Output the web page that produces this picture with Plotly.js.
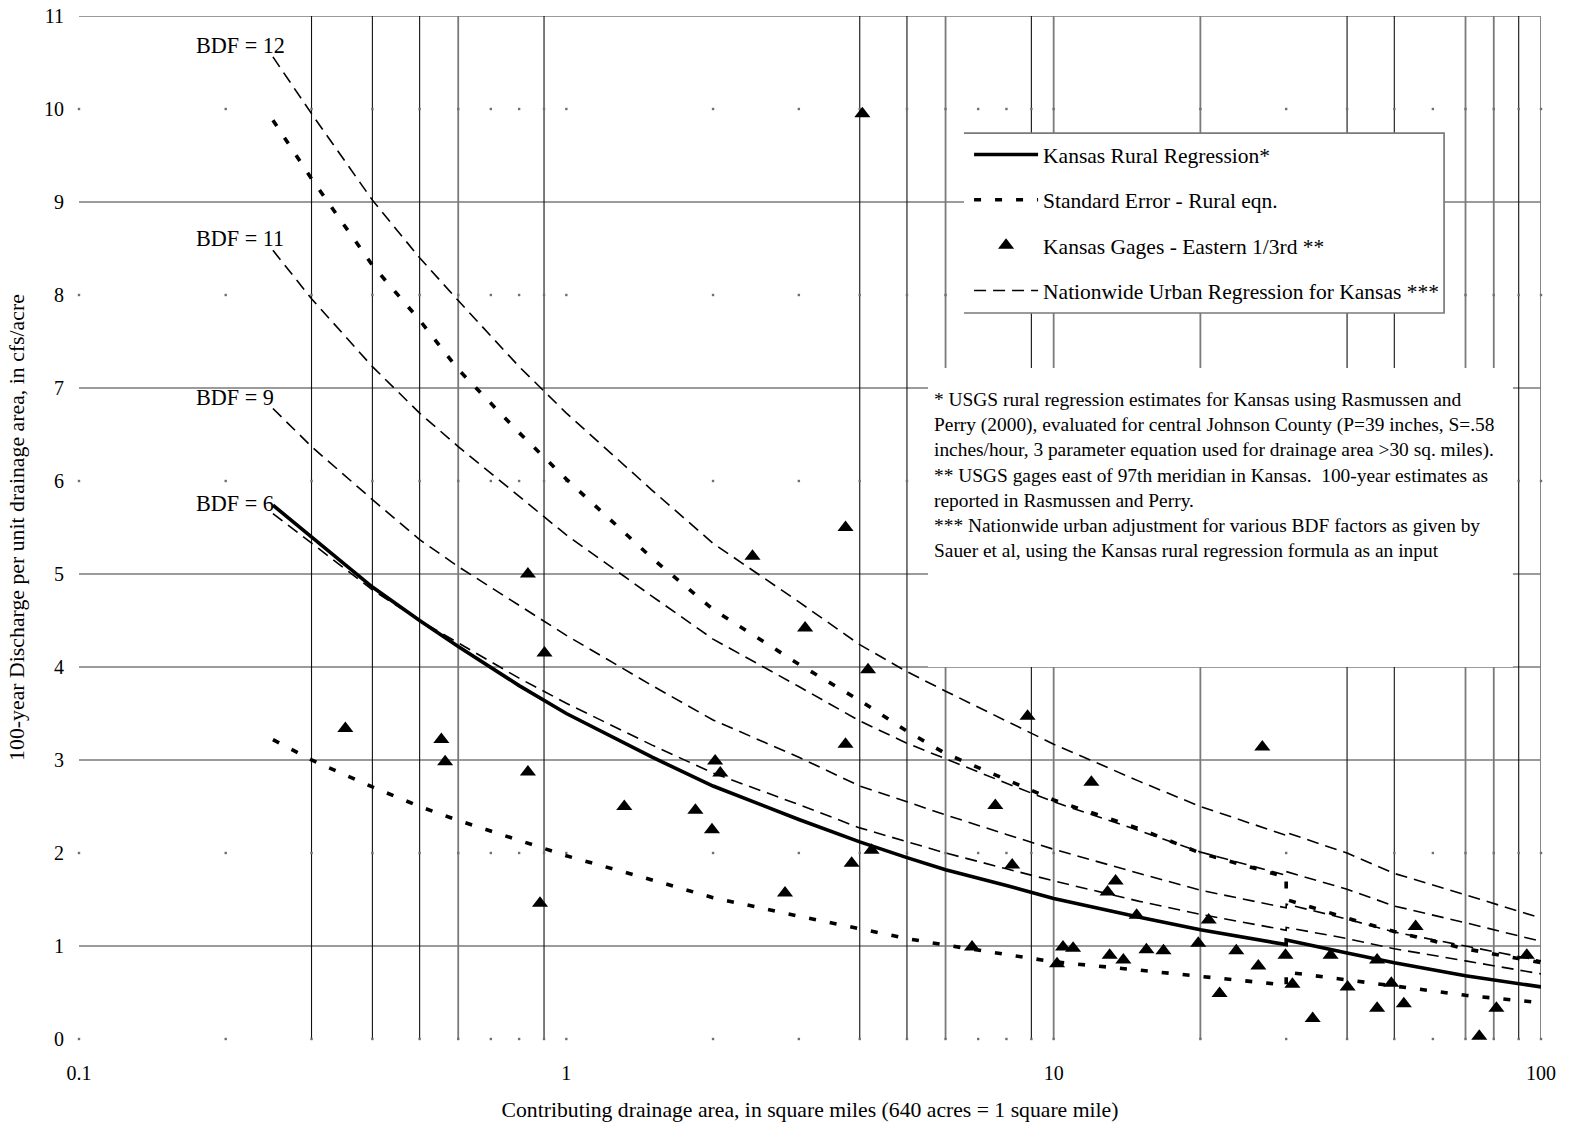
<!DOCTYPE html>
<html>
<head>
<meta charset="utf-8">
<script src="https://cdn.plot.ly/plotly-3.0.1.min.js"></script>
<style>
  html, body { margin: 0; padding: 0; background: #ffffff; }
  #chart { width: 1570px; height: 1127px; }
</style>
</head>
<body>
<div id="chart"></div>
<script>
// ---------------- data ----------------
// drainage area (sq. mi.) at which the regression curves are evaluated; 30 appears twice
// because the rural equation switches to the 3-parameter form there.
const curveArea = [0.25, 0.3, 0.4, 0.5, 0.6, 0.8, 1, 1.5, 2, 3, 4, 5, 6, 8, 10, 15, 20, 30, 30, 40, 50, 70, 100];

const ruralRegression = [5.74, 5.40, 4.86, 4.50, 4.22, 3.80, 3.50, 3.03, 2.72, 2.36, 2.12, 1.95, 1.82, 1.65, 1.51, 1.31, 1.175, 1.015, 1.065, 0.925, 0.82, 0.68, 0.56];
const stdErrUpper     = [9.88, 9.25, 8.32, 7.73, 7.20, 6.52, 6.02, 5.17, 4.62, 4.03, 3.64, 3.31, 3.07, 2.79, 2.57, 2.26, 2.00, 1.74, 1.50, 1.30, 1.155, 0.97, 0.82];
const stdErrLower     = [3.22, 3.00, 2.71, 2.50, 2.35, 2.14, 1.97, 1.71, 1.52, 1.32, 1.18, 1.08, 1.01, 0.91, 0.83, 0.74, 0.67, 0.58, 0.72, 0.64, 0.57, 0.47, 0.39];
const urbanBDF12      = [10.56, 9.95, 9.02, 8.40, 7.94, 7.23, 6.73, 5.90, 5.33, 4.70, 4.24, 3.95, 3.74, 3.42, 3.17, 2.77, 2.50, 2.19, 2.22, 2.00, 1.78, 1.55, 1.30];
const urbanBDF11      = [8.48, 7.96, 7.23, 6.73, 6.37, 5.83, 5.42, 4.76, 4.30, 3.79, 3.42, 3.18, 3.01, 2.75, 2.55, 2.24, 2.01, 1.76, 1.80, 1.61, 1.43, 1.25, 1.05];
const urbanBDF9       = [6.78, 6.37, 5.80, 5.37, 5.08, 4.66, 4.34, 3.80, 3.43, 3.03, 2.72, 2.55, 2.41, 2.20, 2.04, 1.78, 1.60, 1.41, 1.45, 1.29, 1.15, 1.00, 0.84];
const urbanBDF6       = [5.65, 5.33, 4.83, 4.50, 4.26, 3.88, 3.61, 3.16, 2.86, 2.52, 2.27, 2.12, 2.00, 1.83, 1.70, 1.48, 1.34, 1.17, 1.20, 1.08, 0.97, 0.84, 0.70];

// Kansas gages - eastern 1/3rd (drainage area, 100-yr discharge per unit area)
const gageArea = [0.352, 0.554, 0.564, 0.834, 0.834, 0.883, 0.902, 1.315, 1.84, 1.99, 2.02, 2.07, 2.41, 2.81, 3.09, 3.74, 3.74, 3.85, 4.05, 4.16, 4.23, 6.80, 7.59, 8.22, 8.84, 10.16, 10.45, 10.96, 11.95, 12.9, 13.03, 13.4, 13.9, 14.8, 15.5, 16.8, 19.8, 20.8, 21.9, 23.7, 26.3, 26.8, 29.9, 30.9, 34.0, 37.0, 40.1, 46.1, 46.1, 49.3, 52.3, 55.3, 74.7, 81.0, 93.5];
const gageQ    = [3.34, 3.22, 2.98, 5.00, 2.87, 1.46, 4.15, 2.50, 2.46, 2.25, 2.99, 2.86, 5.19, 1.57, 4.42, 5.50, 3.17, 1.89, 9.95, 3.97, 2.03, 0.99, 2.51, 1.87, 3.47, 0.81, 0.99, 0.975, 2.76, 1.58, 0.90, 1.70, 0.85, 1.33, 0.96, 0.95, 1.03, 1.28, 0.49, 0.95, 0.785, 3.14, 0.90, 0.59, 0.22, 0.90, 0.56, 0.85, 0.33, 0.60, 0.38, 1.21, 0.03, 0.33, 0.90];

// axis ticks and gridlines
const xTickVals = [0.1, 1, 10, 100];
const xTickText = ['0.1', '1', '10', '100'];
const yTickVals = [0, 1, 2, 3, 4, 5, 6, 7, 8, 9, 10, 11];
const vGridBlack = [0.3, 0.4, 0.5, 0.9, 4, 5, 9, 40, 50, 90];
const vGridGrey  = [0.6, 6, 10, 20, 70, 80, 100];
const vGridTickExt = [10, 100];
const hGridSolid = [1, 3, 4, 5, 7, 9, 11];
const hGridDotted = [0, 2, 6, 8, 10];
const minorDecades = [0.1, 1, 10];
const minorSteps = [1, 2, 3, 4, 5, 6, 7, 8, 9];

const bdfLabels = ['BDF = 12', 'BDF = 11', 'BDF = 9', 'BDF = 6'];
const bdfLabelY = [10.68, 8.61, 6.90, 5.76];

const notesText = [
  '* USGS rural regression estimates for Kansas using Rasmussen and',
  'Perry (2000), evaluated for central Johnson County (P=39 inches, S=.58',
  'inches/hour, 3 parameter equation used for drainage area &gt;30 sq. miles).',
  '** USGS gages east of 97th meridian in Kansas.\u00a0 100-year estimates as',
  'reported in Rasmussen and Perry.',
  '*** Nationwide urban adjustment for various BDF factors as given by',
  'Sauer et al, using the Kansas rural regression formula as an input'
];

// ---------------- figure ----------------
const FONT = 'Liberation Serif, Times New Roman, serif';

// dotted-row grid dots
const dotX = [], dotY = [];
hGridDotted.forEach(function (yv) {
  minorDecades.forEach(function (d) {
    minorSteps.forEach(function (s) { dotX.push(+(s * d).toPrecision(6)); dotY.push(yv); });
  });
  dotX.push(100); dotY.push(yv);
});

const urbanLine = { color: '#000000', width: 1.6, dash: '12px,7px' };
const seLine = { color: '#000000', width: 3.6, dash: '7px,14px' };

const traces = [
  { x: dotX, y: dotY, type: 'scatter', mode: 'markers', name: 'grid dots',
    marker: { symbol: 'square', size: 2.4, color: '#707070' }, showlegend: false, hoverinfo: 'skip', cliponaxis: false },
  { x: curveArea, y: ruralRegression, type: 'scatter', mode: 'lines', name: 'Kansas Rural Regression*',
    line: { color: '#000000', width: 3.6 }, legendgroup: 'g1', showlegend: true, hoverinfo: 'skip' },
  { x: curveArea, y: stdErrUpper, type: 'scatter', mode: 'lines', name: 'Standard Error - Rural eqn.',
    line: seLine, legendgroup: 'g2', showlegend: true, hoverinfo: 'skip' },
  { x: curveArea, y: stdErrLower, type: 'scatter', mode: 'lines', name: 'Standard Error - Rural eqn.',
    line: seLine, legendgroup: 'g2', showlegend: false, hoverinfo: 'skip' },
  { x: gageArea, y: gageQ, type: 'scatter', mode: 'markers', name: 'Kansas Gages - Eastern 1/3rd **',
    marker: { symbol: 'triangle-up', size: 14, color: '#000000' }, legendgroup: 'g3', showlegend: true,
    cliponaxis: false, hoverinfo: 'skip' },
  { x: curveArea, y: urbanBDF12, type: 'scatter', mode: 'lines', name: 'Nationwide Urban Regression for Kansas ***',
    line: urbanLine, legendgroup: 'g4', showlegend: true, hoverinfo: 'skip' },
  { x: curveArea, y: urbanBDF11, type: 'scatter', mode: 'lines', name: 'BDF 11',
    line: urbanLine, legendgroup: 'g4', showlegend: false, hoverinfo: 'skip' },
  { x: curveArea, y: urbanBDF9, type: 'scatter', mode: 'lines', name: 'BDF 9',
    line: urbanLine, legendgroup: 'g4', showlegend: false, hoverinfo: 'skip' },
  { x: curveArea, y: urbanBDF6, type: 'scatter', mode: 'lines', name: 'BDF 6',
    line: urbanLine, legendgroup: 'g4', showlegend: false, hoverinfo: 'skip' }
];

const shapes = [];
hGridSolid.forEach(function (v) {
  shapes.push({ type: 'line', xref: 'paper', yref: 'y', x0: 0, x1: 1, y0: v, y1: v,
    line: { color: '#7a7a7a', width: 1.7 }, layer: 'below' });
});
vGridBlack.forEach(function (v) {
  shapes.push({ type: 'line', xref: 'x', yref: 'y', x0: v, x1: v, y0: 0, y1: 11,
    line: { color: '#111111', width: 1.1 }, layer: 'below' });
});
vGridGrey.forEach(function (v) {
  const ext = vGridTickExt.indexOf(v) >= 0 ? -0.065 : 0;
  shapes.push({ type: 'line', xref: 'x', yref: 'y', x0: v, x1: v, y0: ext, y1: 11,
    line: { color: '#7a7a7a', width: 1.8 }, layer: 'below' });
});
// white boxes: notes area and legend box (legend box framed on top, right and bottom)
shapes.push({ type: 'rect', xref: 'paper', yref: 'paper', x0: 0.5807, x1: 0.9808, y0: 0.3636, y1: 0.6559,
  fillcolor: '#ffffff', line: { width: 0 }, layer: 'above' });
shapes.push({ type: 'rect', xref: 'paper', yref: 'paper', x0: 0.6053, x1: 0.9337, y0: 0.7097, y1: 0.8856,
  fillcolor: '#ffffff', line: { width: 0 }, layer: 'above' });
shapes.push({ type: 'path', xref: 'paper', yref: 'paper', layer: 'above',
  path: 'M0.6053,0.8856 L0.9337,0.8856 L0.9337,0.7097 L0.6053,0.7097',
  line: { color: '#7a7a7a', width: 1.7 } });

const annotations = [];
bdfLabels.forEach(function (t, i) {
  annotations.push({ text: t, xref: 'paper', yref: 'y', x: 0.0787, y: bdfLabelY[i], xanchor: 'left', yanchor: 'middle',
    showarrow: false, font: { family: FONT, size: 22.2, color: '#000000' } });
});
annotations.push({ text: notesText.join('<br>'), xref: 'paper', yref: 'paper', x: 0.5834, y: 0.637,
  xanchor: 'left', yanchor: 'top', align: 'left', showarrow: false,
  font: { family: FONT, size: 19.4, color: '#000000' } });

const layout = {
  width: 1570, height: 1127,
  margin: { l: 79, r: 29, t: 16, b: 88, pad: 0 },
  paper_bgcolor: '#ffffff', plot_bgcolor: '#ffffff',
  font: { family: FONT, color: '#000000' },
  showlegend: true,
  legend: {
    x: 0.6088, y: 0.8847, xanchor: 'left', yanchor: 'top',
    bgcolor: 'rgba(0,0,0,0)', borderwidth: 0,
    font: { family: FONT, size: 21.5, color: '#000000' },
    traceorder: 'grouped', tracegroupgap: 14.4, itemwidth: 64, itemclick: false, itemdoubleclick: false
  },
  xaxis: {
    type: 'log', range: [-1, 2], tickmode: 'array', tickvals: xTickVals, ticktext: xTickText,
    showgrid: false, zeroline: false, showline: false, ticks: '', ticklabelstandoff: 20,
    tickfont: { family: FONT, size: 20, color: '#000000' },
    title: { text: 'Contributing drainage area, in square miles (640 acres = 1 square mile)',
      font: { family: FONT, size: 21.7, color: '#000000' }, standoff: 18 }
  },
  yaxis: {
    range: [0, 11], tickmode: 'array', tickvals: yTickVals,
    showgrid: false, zeroline: false, showline: false, ticks: '', ticklabelstandoff: 14,
    tickfont: { family: FONT, size: 20, color: '#000000' },
    title: { text: '100-year Discharge per unit drainage area, in cfs/acre',
      font: { family: FONT, size: 21.8, color: '#000000' }, standoff: 13 }
  },
  shapes: shapes,
  annotations: annotations
};

Plotly.newPlot('chart', traces, layout, { staticPlot: true, displayModeBar: false });
</script>
</body>
</html>
